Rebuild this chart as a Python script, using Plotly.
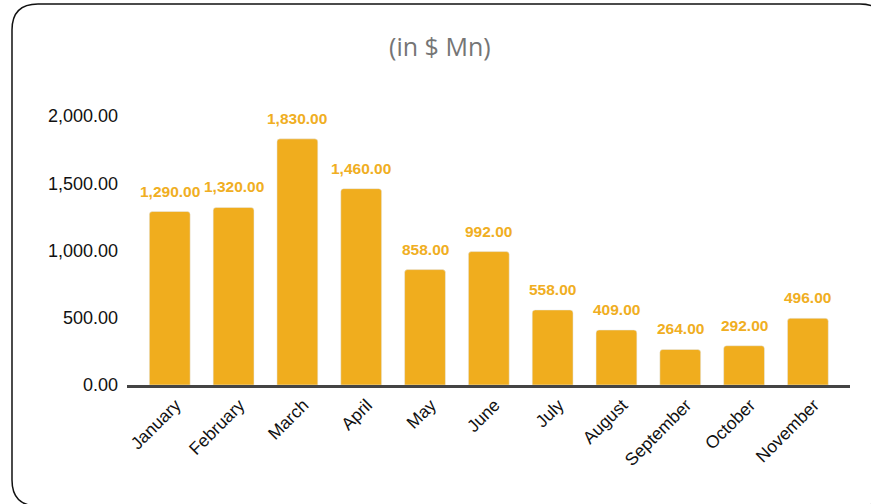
import plotly.graph_objects as go

months = ["January", "February", "March", "April", "May", "June", "July",
          "August", "September", "October", "November"]
values = [1290, 1320, 1830, 1460, 858, 992, 558, 409, 264, 292, 496]
y_ticks = [0, 500, 1000, 1500, 2000]

BAR = "#F0AD1E"
LABEL = "#F0AE22"

# page geometry (pixels) used for the margins and the rounded frame
W, H = 871, 504
L, R, T, B = 127, 21, 100, 119
pw, ph = W - L - R, H - T - B


def px(x):
    return (x - L) / pw


def py(y):
    return (H - B - y) / ph


fig = go.Figure()
fig.add_trace(go.Bar(
    x=months, y=values, marker=dict(color=BAR, cornerradius=3),
    hoverinfo="x+y",
))

for m, v in zip(months, values):
    fig.add_annotation(
        x=m, y=v, text=f"<b>{v:,.2f}</b>", showarrow=False,
        yanchor="bottom", yshift=10,
        font=dict(family="Arial, Liberation Sans", size=15.5, color=LABEL),
    )

# rounded frame around the card
x0, x1, y0, y1, r = 12, 886, 4, 506, 26
pts = [
    ("M", px(x0 + r), py(y0)),
    ("L", px(x1 - r), py(y0)),
    ("Q", px(x1), py(y0), px(x1), py(y0 + r)),
    ("L", px(x1), py(y1 - r)),
    ("Q", px(x1), py(y1), px(x1 - r), py(y1)),
    ("L", px(x0 + r), py(y1)),
    ("Q", px(x0), py(y1), px(x0), py(y1 - r)),
    ("L", px(x0), py(y0 + r)),
    ("Q", px(x0), py(y0), px(x0 + r), py(y0)),
]
path = " ".join(
    p[0] + " " + " ".join(f"{c:.5f}" for c in p[1:]) for p in pts
) + " Z"
fig.add_shape(type="path", path=path, xref="paper", yref="paper",
              line=dict(color="#111111", width=1.5), layer="above")

fig.update_layout(
    width=W, height=H,
    margin=dict(l=L, r=R, t=T, b=B),
    paper_bgcolor="white", plot_bgcolor="white",
    showlegend=False,
    bargap=0.36,
    title=dict(text="(in $ Mn)", x=0.505, xref="container", xanchor="center",
               y=0.907, yref="container", yanchor="middle",
               font=dict(family="Open Sans", size=25, color="#757575")),
    xaxis=dict(
        range=[-0.67, 10.66], tickangle=-45,
        tickfont=dict(family="Arial, Liberation Sans", size=17.5, color="#111111"),
        showline=True, linecolor="#444444", linewidth=3,
        showgrid=False, ticks="", zeroline=False,
        ticklabelshift=6,
    ),
    yaxis=dict(
        range=[0, 2119], tickvals=y_ticks, tickformat=",.2f",
        tickfont=dict(family="Arial, Liberation Sans", size=18, color="#111111"),
        showgrid=False, zeroline=False, showline=False, ticks="",
        ticklabelstandoff=8,
    ),
)

fig.write_html("out.html")
